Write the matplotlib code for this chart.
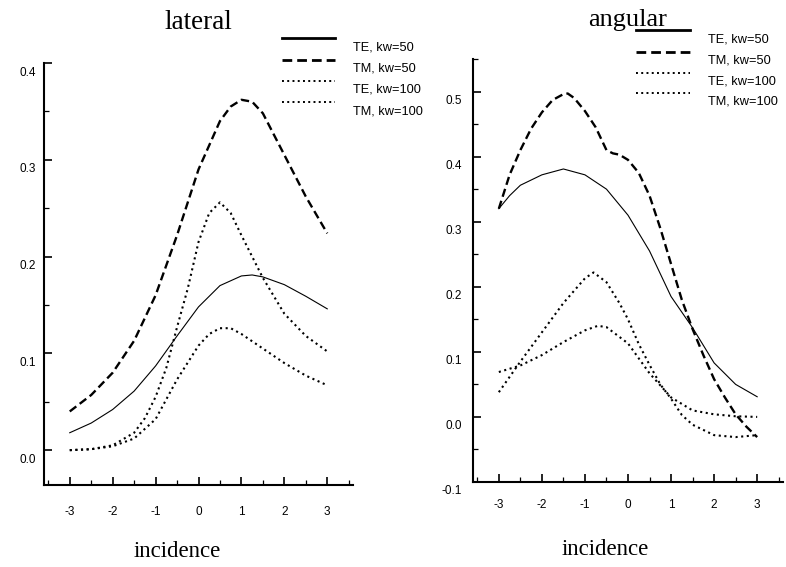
import matplotlib
matplotlib.use('Agg')
import matplotlib.pyplot as plt
import matplotlib.transforms as mtransforms
from matplotlib.lines import Line2D
from matplotlib.ticker import MultipleLocator, FormatStrFormatter

# ---- lateral panel ----
lat_te50_x = [-3, -2.5, -2, -1.5, -1, -0.5, 0, 0.5, 1, 1.25, 1.5, 2, 2.5, 3]
lat_te50 = [0.018, 0.028, 0.042, 0.061, 0.087, 0.118, 0.148, 0.170, 0.180, 0.181, 0.179, 0.171, 0.159, 0.146]

lat_tm50_x = [-3, -2.5, -2, -1.5, -1, -0.5, 0, 0.5, 0.75, 1, 1.25, 1.5, 2, 2.5, 3]
lat_tm50 = [0.040, 0.057, 0.080, 0.113, 0.160, 0.222, 0.290, 0.340, 0.355, 0.362, 0.360, 0.348, 0.305, 0.262, 0.224]

lat_te100_x = [-3, -2.5, -2, -1.5, -1.25, -1, -0.75, -0.5, -0.25, 0, 0.25, 0.5, 0.75, 1, 1.25, 1.5, 2, 2.5, 3]
lat_te100 = [0.0, 0.001, 0.005, 0.018, 0.033, 0.055, 0.085, 0.127, 0.167, 0.215, 0.245, 0.256, 0.245, 0.222, 0.200, 0.178, 0.141, 0.118, 0.102]

lat_tm100_x = [-3, -2.5, -2, -1.5, -1, -0.5, 0, 0.25, 0.5, 0.75, 1, 1.5, 2, 2.5, 3]
lat_tm100 = [0.0, 0.001, 0.004, 0.012, 0.032, 0.073, 0.108, 0.120, 0.126, 0.126, 0.120, 0.105, 0.090, 0.077, 0.067]

# ---- angular panel ----
ang_te50_x = [-3, -2.75, -2.5, -2, -1.5, -1, -0.5, 0, 0.5, 1, 1.5, 2, 2.5, 3]
ang_te50 = [0.320, 0.340, 0.356, 0.372, 0.381, 0.372, 0.350, 0.310, 0.255, 0.185, 0.137, 0.083, 0.050, 0.031]

ang_tm50_x = [-3, -2.75, -2.5, -2.25, -2, -1.75, -1.5, -1.4, -1.25, -1, -0.75, -0.5, -0.35, -0.2, 0,
              0.25, 0.5, 0.75, 1, 1.25, 1.5, 1.75, 2, 2.25, 2.5, 2.75, 3]
ang_tm50 = [0.320, 0.372, 0.410, 0.443, 0.468, 0.487, 0.496, 0.497, 0.490, 0.470, 0.445, 0.410, 0.405, 0.403, 0.395,
            0.375, 0.340, 0.290, 0.235, 0.180, 0.135, 0.095, 0.058, 0.030, 0.004, -0.015, -0.031]

ang_te100_x = [-3, -2.5, -2, -1.5, -1, -0.8, -0.5, -0.2, 0, 0.25, 0.5, 0.75, 1, 1.25, 1.5, 2, 2.5, 3]
ang_te100 = [0.038, 0.085, 0.130, 0.175, 0.213, 0.222, 0.207, 0.175, 0.150, 0.112, 0.080, 0.050, 0.028, 0.003, -0.012, -0.028, -0.031, -0.028]

ang_tm100_x = [-3, -2.5, -2, -1.5, -1, -0.7, -0.5, 0, 0.5, 1, 1.5, 2, 2.5, 3]
ang_tm100 = [0.069, 0.079, 0.095, 0.115, 0.133, 0.140, 0.138, 0.113, 0.067, 0.030, 0.010, 0.004, 0.001, 0.0]

labels = ['TE, kw=50', 'TM, kw=50', 'TE, kw=100', 'TM, kw=100']

SERIF = 'Liberation Serif'
SANS = 'Liberation Sans'

# line styles (plot, legend)
sty = [
    dict(color='k', lw=0.8, ls='-'),
    dict(color='k', lw=1.7, ls=(0, (3.5, 1.8))),
    dict(color='k', lw=1.5, ls=(0, (1, 1.7))),
    dict(color='k', lw=1.5, ls=(0, (1, 1.7))),
]
leg_lw = [2.0, 2.0, 1.4, 1.4]

W, H = 786, 567
fig = plt.figure(figsize=(W / 100, H / 100), dpi=100)


def px(x, y):
    return x / W, 1 - y / H


def setup(ax, ylim, ypad, xpad):
    ax.set_xlim(-3.6, 3.6)
    ax.set_ylim(*ylim)
    for s in ['top', 'right']:
        ax.spines[s].set_visible(False)
    for s in ['left', 'bottom']:
        ax.spines[s].set_linewidth(1.5)
    ax.xaxis.set_major_locator(MultipleLocator(1))
    ax.xaxis.set_minor_locator(MultipleLocator(0.5))
    ax.yaxis.set_major_locator(MultipleLocator(0.1))
    ax.yaxis.set_minor_locator(MultipleLocator(0.05))
    ax.xaxis.set_major_formatter(FormatStrFormatter('%d'))
    ax.yaxis.set_major_formatter(FormatStrFormatter('%.1f'))
    ax.tick_params(which='major', direction='in', length=5.5, width=1.2, labelsize=8.5)
    ax.tick_params(which='minor', direction='in', length=3.5, width=0.9)
    ax.tick_params(axis='y', pad=ypad)
    ax.tick_params(axis='x', pad=xpad)
    for t in ax.get_xticklabels() + ax.get_yticklabels():
        t.set_fontfamily(SANS)


ax1 = fig.add_axes([44 / W, 1 - 485 / H, 309 / W, 422 / H])
ax2 = fig.add_axes([473 / W, 1 - 482 / H, 310 / W, 423 / H])

setup(ax1, (-0.036, 0.4), 6, 15)
setup(ax2, (-0.1, 0.55), 8, 12)

for ax, series in [
    (ax1, [(lat_te50_x, lat_te50), (lat_tm50_x, lat_tm50), (lat_te100_x, lat_te100), (lat_tm100_x, lat_tm100)]),
    (ax2, [(ang_te50_x, ang_te50), (ang_tm50_x, ang_tm50), (ang_te100_x, ang_te100), (ang_tm100_x, ang_tm100)]),
]:
    for (x, y), s in zip(series, sty):
        ax.plot(x, y, **s)

# legends drawn in the figure, text sits a little under each sample line
for x0, x1, xt, rows in [
    (282, 335, 353, [38, 60, 81, 102]),
    (636, 690, 708, [30, 52, 73, 93]),
]:
    for lab, s, lw, yl in zip(labels, sty, leg_lw, rows):
        a, b = px(x0, yl)
        c, _ = px(x1, yl)
        fig.add_artist(Line2D([a, c], [b, b], color='k', lw=lw, ls=s['ls'], transform=fig.transFigure))
        tx, ty = px(xt, yl + 9)
        fig.text(tx, ty, lab, fontsize=9.2, family=SANS, va='center', ha='left')

# titles and axis names
fig.text(*px(198, 29), 'lateral', fontsize=19.5, family=SERIF, ha='center', va='baseline')
fig.text(*px(628, 26), 'angular', fontsize=19, family=SERIF, ha='center', va='baseline')
fig.text(*px(177, 557), 'incidence', fontsize=16.5, family=SERIF, ha='center', va='baseline')
fig.text(*px(605, 555), 'incidence', fontsize=16.5, family=SERIF, ha='center', va='baseline')

# y tick labels sit a bit lower than their ticks in the original
fig.canvas.draw()
shift = mtransforms.ScaledTranslation(0, -8 / 100, fig.dpi_scale_trans)
for ax in (ax1, ax2):
    for t in ax.yaxis.get_majorticklabels():
        t.set_transform(t.get_transform() + shift)

fig.savefig('out.png', dpi=100)
